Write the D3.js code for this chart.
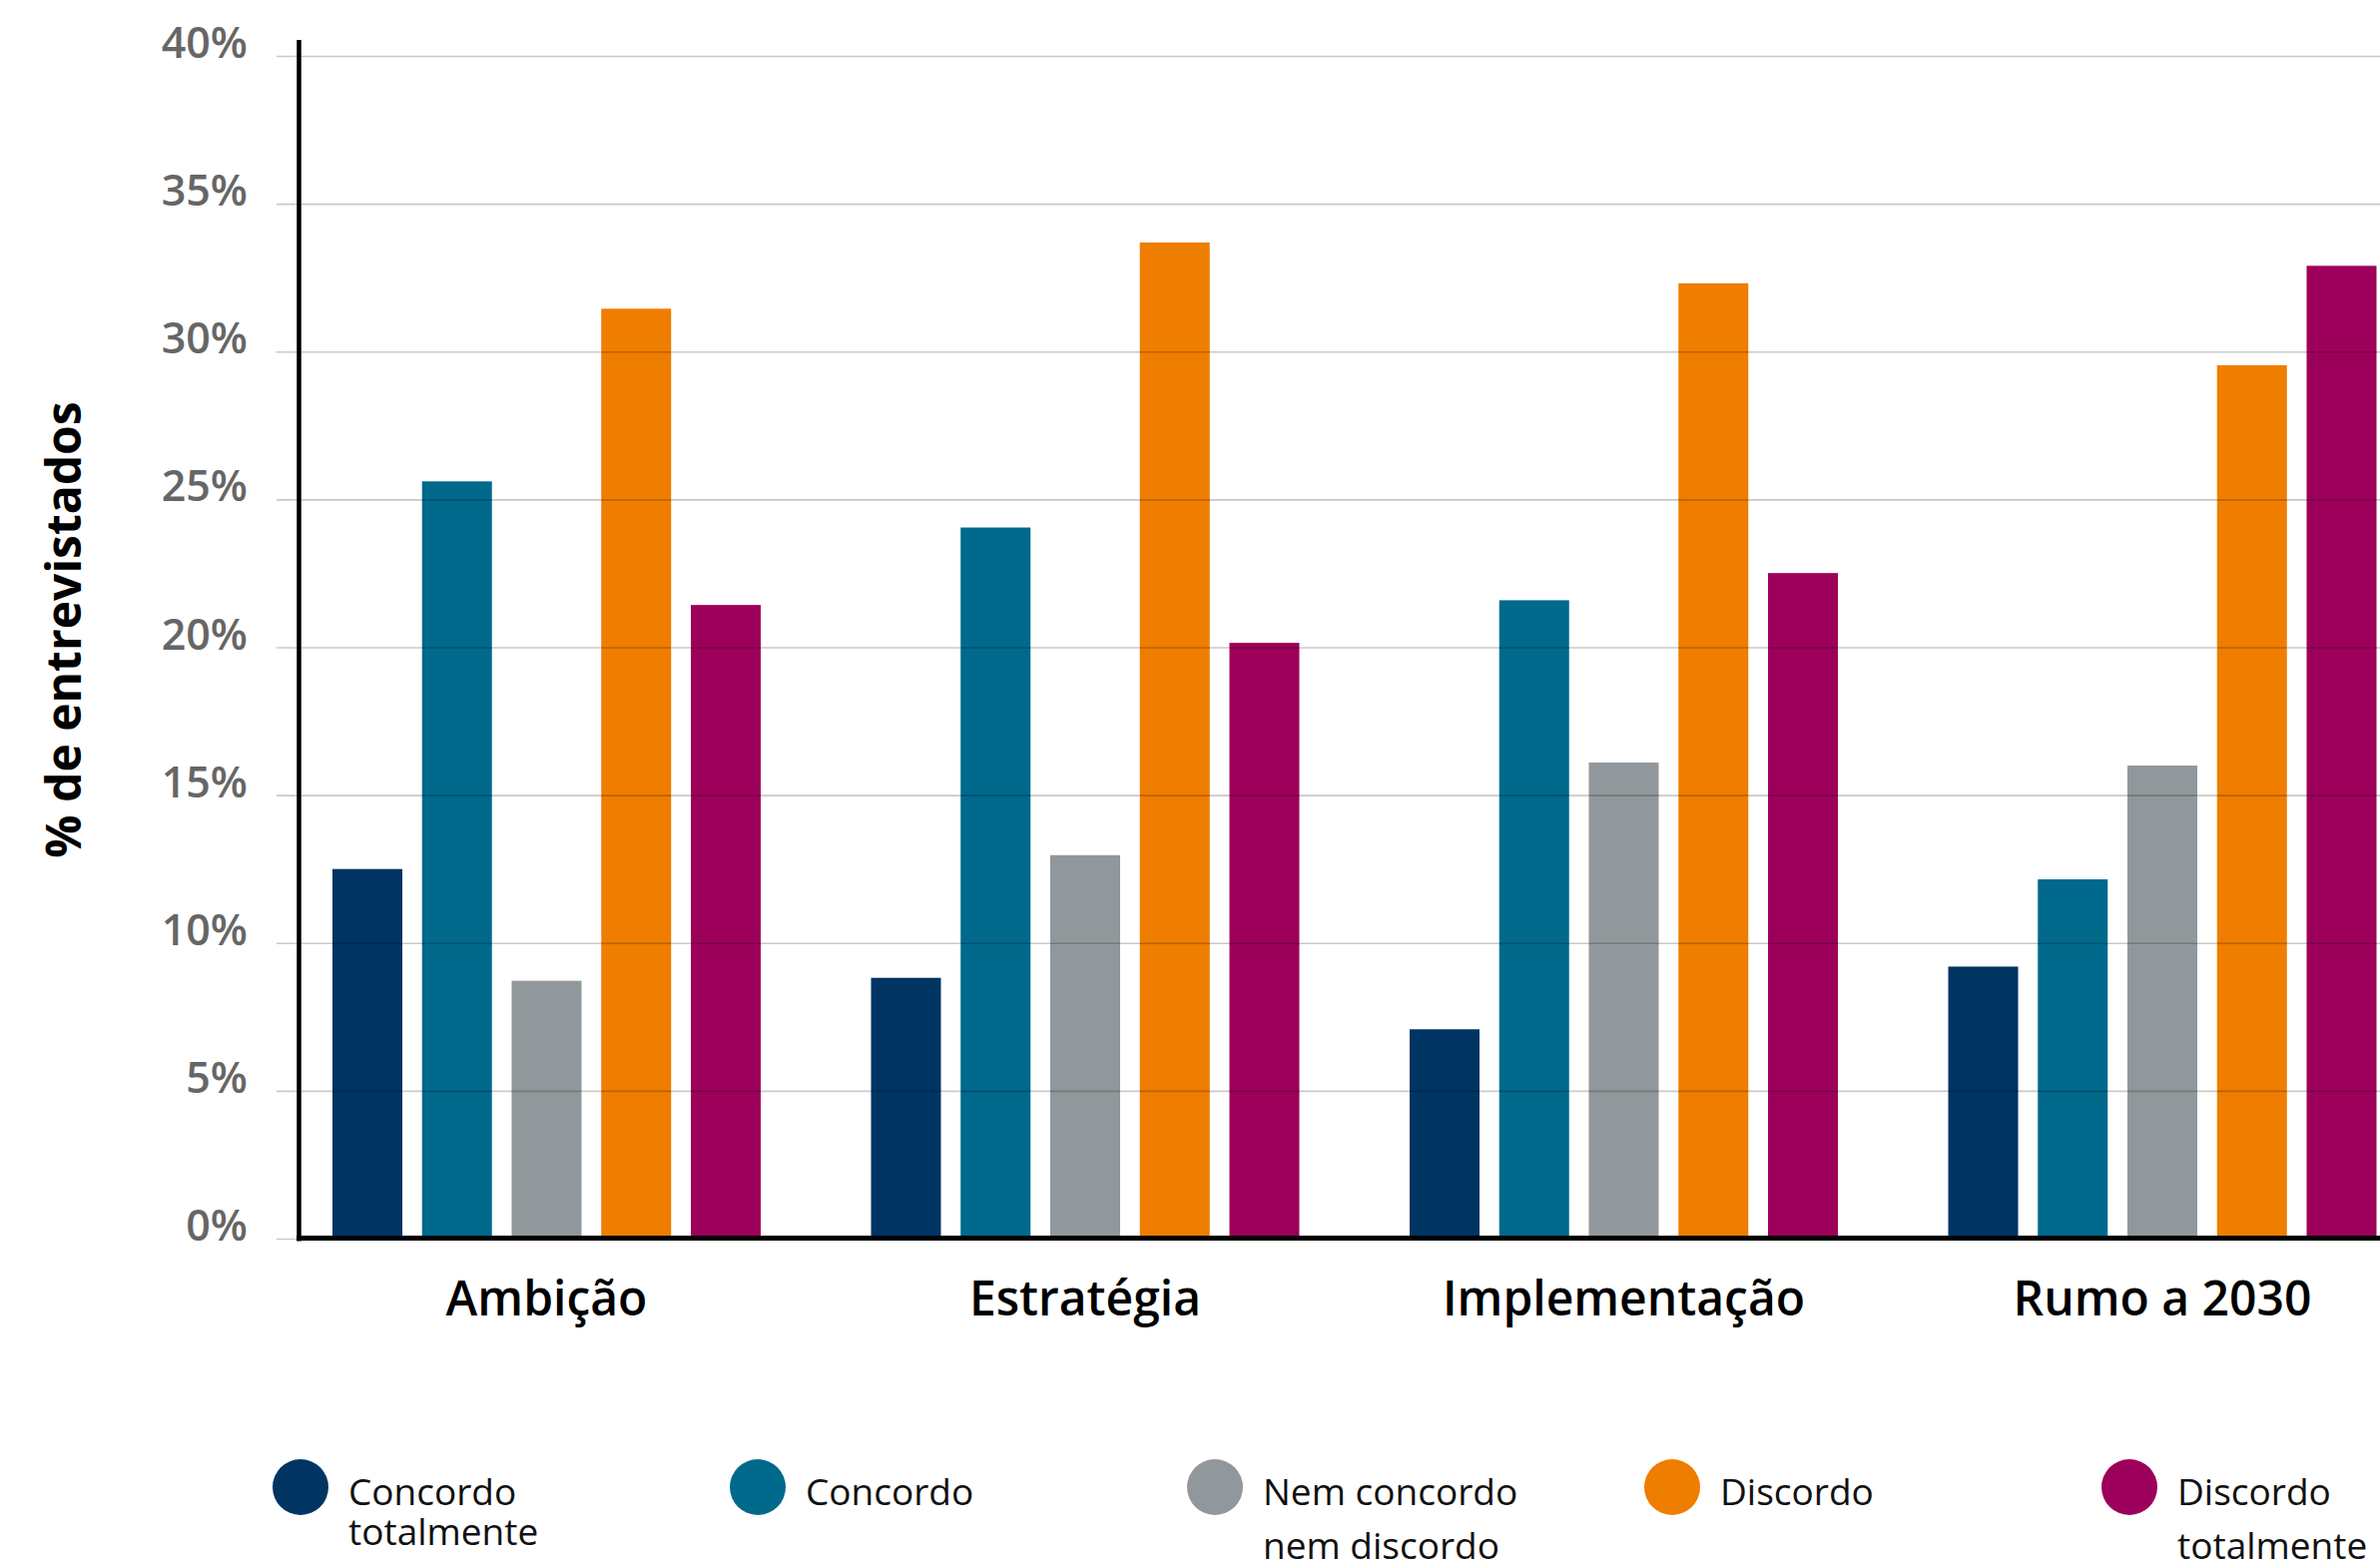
<!DOCTYPE html>
<html>
<head>
<meta charset="utf-8">
<script src="https://cdn.jsdelivr.net/npm/d3@7"></script>
<style>
    html, body { margin: 0; padding: 0; background: #fff; }
    svg { display: block; font-family: "Open Sans", sans-serif; }
</style>
</head>
<body>
<svg id="chart" width="2384" height="1565"></svg>
<script>
// chart data
var categories = ["Ambição", "Estratégia", "Implementação", "Rumo a 2030"];
var seriesKeys = ["ct", "c", "nn", "d", "dt"];
var legendLabels = [["Concordo", "totalmente"], ["Concordo"], ["Nem concordo", "nem discordo"], ["Discordo"], ["Discordo", "totalmente"]];
var concordoTotalmente = [12.5, 8.82, 7.08, 9.2];
var concordo = [25.61, 24.05, 21.59, 12.15];
var nemConcordoNemDiscordo = [8.72, 12.97, 16.1, 16.0];
var discordo = [31.45, 33.69, 32.31, 29.54];
var discordoTotalmente = [21.43, 20.15, 22.51, 32.9];
var yTicks = [0, 5, 10, 15, 20, 25, 30, 35, 40];

var seriesValues = [concordoTotalmente, concordo, nemConcordoNemDiscordo, discordo, discordoTotalmente];
var colors = ["#003462", "#00698c", "#91989b", "#ef7d00", "#9d005a"];

var svg = d3.select("#chart");

var y = d3.scaleLinear().domain([0, 40]).range([1241, 56]);

var x0 = d3.scaleBand()
    .domain(categories)
    .range([277.75, 2435.75])
    .paddingInner(0.2048)
    .paddingOuter(0.1024);

var x1 = d3.scaleBand()
    .domain(d3.range(seriesKeys.length))
    .range([0, x0.bandwidth()])
    .paddingInner(0.22)
    .paddingOuter(0);

// bars
var groups = svg.append("g").selectAll("g")
    .data(categories)
    .join("g")
    .attr("transform", function (d) { return "translate(" + x0(d) + ",0)"; });

groups.selectAll("rect")
    .data(function (d, ci) {
        return seriesValues.map(function (vals, si) { return {si: si, v: vals[ci]}; });
    })
    .join("rect")
    .attr("x", function (d) { return x1(d.si); })
    .attr("width", x1.bandwidth())
    .attr("y", function (d) { return y(d.v); })
    .attr("height", function (d) { return y(0) - y(d.v); })
    .attr("fill", function (d) { return colors[d.si]; });

// gridlines + tick labels, drawn over the bars
var yAxis = svg.append("g")
    .attr("transform", "translate(277,0)")
    .call(d3.axisLeft(y)
        .tickValues(yTicks)
        .tickSize(-(2384 - 277))
        .tickPadding(29)
        .tickFormat(function (d) { return d + "%"; }));

yAxis.attr("font-family", null).attr("font-size", null);
yAxis.select(".domain").remove();
yAxis.selectAll(".tick line")
    .attr("stroke", "#000")
    .attr("stroke-opacity", 0.21)
    .attr("stroke-width", 1.6);
yAxis.selectAll(".tick text")
    .attr("dy", null)
    .attr("y", 1.5)
    .attr("fill", "#666")
    .style("font-family", "'Open Sans', sans-serif")
    .style("font-size", "43px")
    .style("font-weight", 600);

// axis lines
svg.append("line")
    .attr("x1", 299.5).attr("x2", 299.5)
    .attr("y1", 40).attr("y2", 1243.5)
    .attr("stroke", "#000").attr("stroke-width", 4.5);
svg.append("line")
    .attr("x1", 297).attr("x2", 2384)
    .attr("y1", 1240.5).attr("y2", 1240.5)
    .attr("stroke", "#000").attr("stroke-width", 5);

// category labels
svg.append("g").selectAll("text")
    .data(categories)
    .join("text")
    .attr("x", function (d) { return x0(d) + x0.bandwidth() / 2; })
    .attr("y", 1318)
    .attr("text-anchor", "middle")
    .attr("fill", "#000")
    .style("font-size", "48px")
    .style("font-weight", 600)
    .text(function (d) { return d; });

// y axis title
svg.append("text")
    .attr("transform", "translate(81,631) rotate(-90)")
    .attr("text-anchor", "middle")
    .attr("fill", "#000")
    .style("font-size", "48px")
    .style("font-weight", 700)
    .text("% de entrevistados");

// legend
var lineGap = [40, 0, 54, 0, 54];
var legend = svg.append("g").selectAll("g")
    .data(legendLabels)
    .join("g")
    .attr("transform", function (d, i) { return "translate(" + (301 + i * 458) + ",1490)"; });

legend.append("circle")
    .attr("r", 28)
    .attr("fill", function (d, i) { return colors[i]; });

legend.each(function (lines, i) {
    var t = d3.select(this).append("text")
        .attr("x", 48)
        .attr("y", 18)
        .attr("fill", "#111")
        .style("font-size", "37px");
    lines.forEach(function (line, k) {
        t.append("tspan")
            .attr("x", 48)
            .attr("y", 18 + k * lineGap[i])
            .text(line);
    });
});
</script>
</body>
</html>
